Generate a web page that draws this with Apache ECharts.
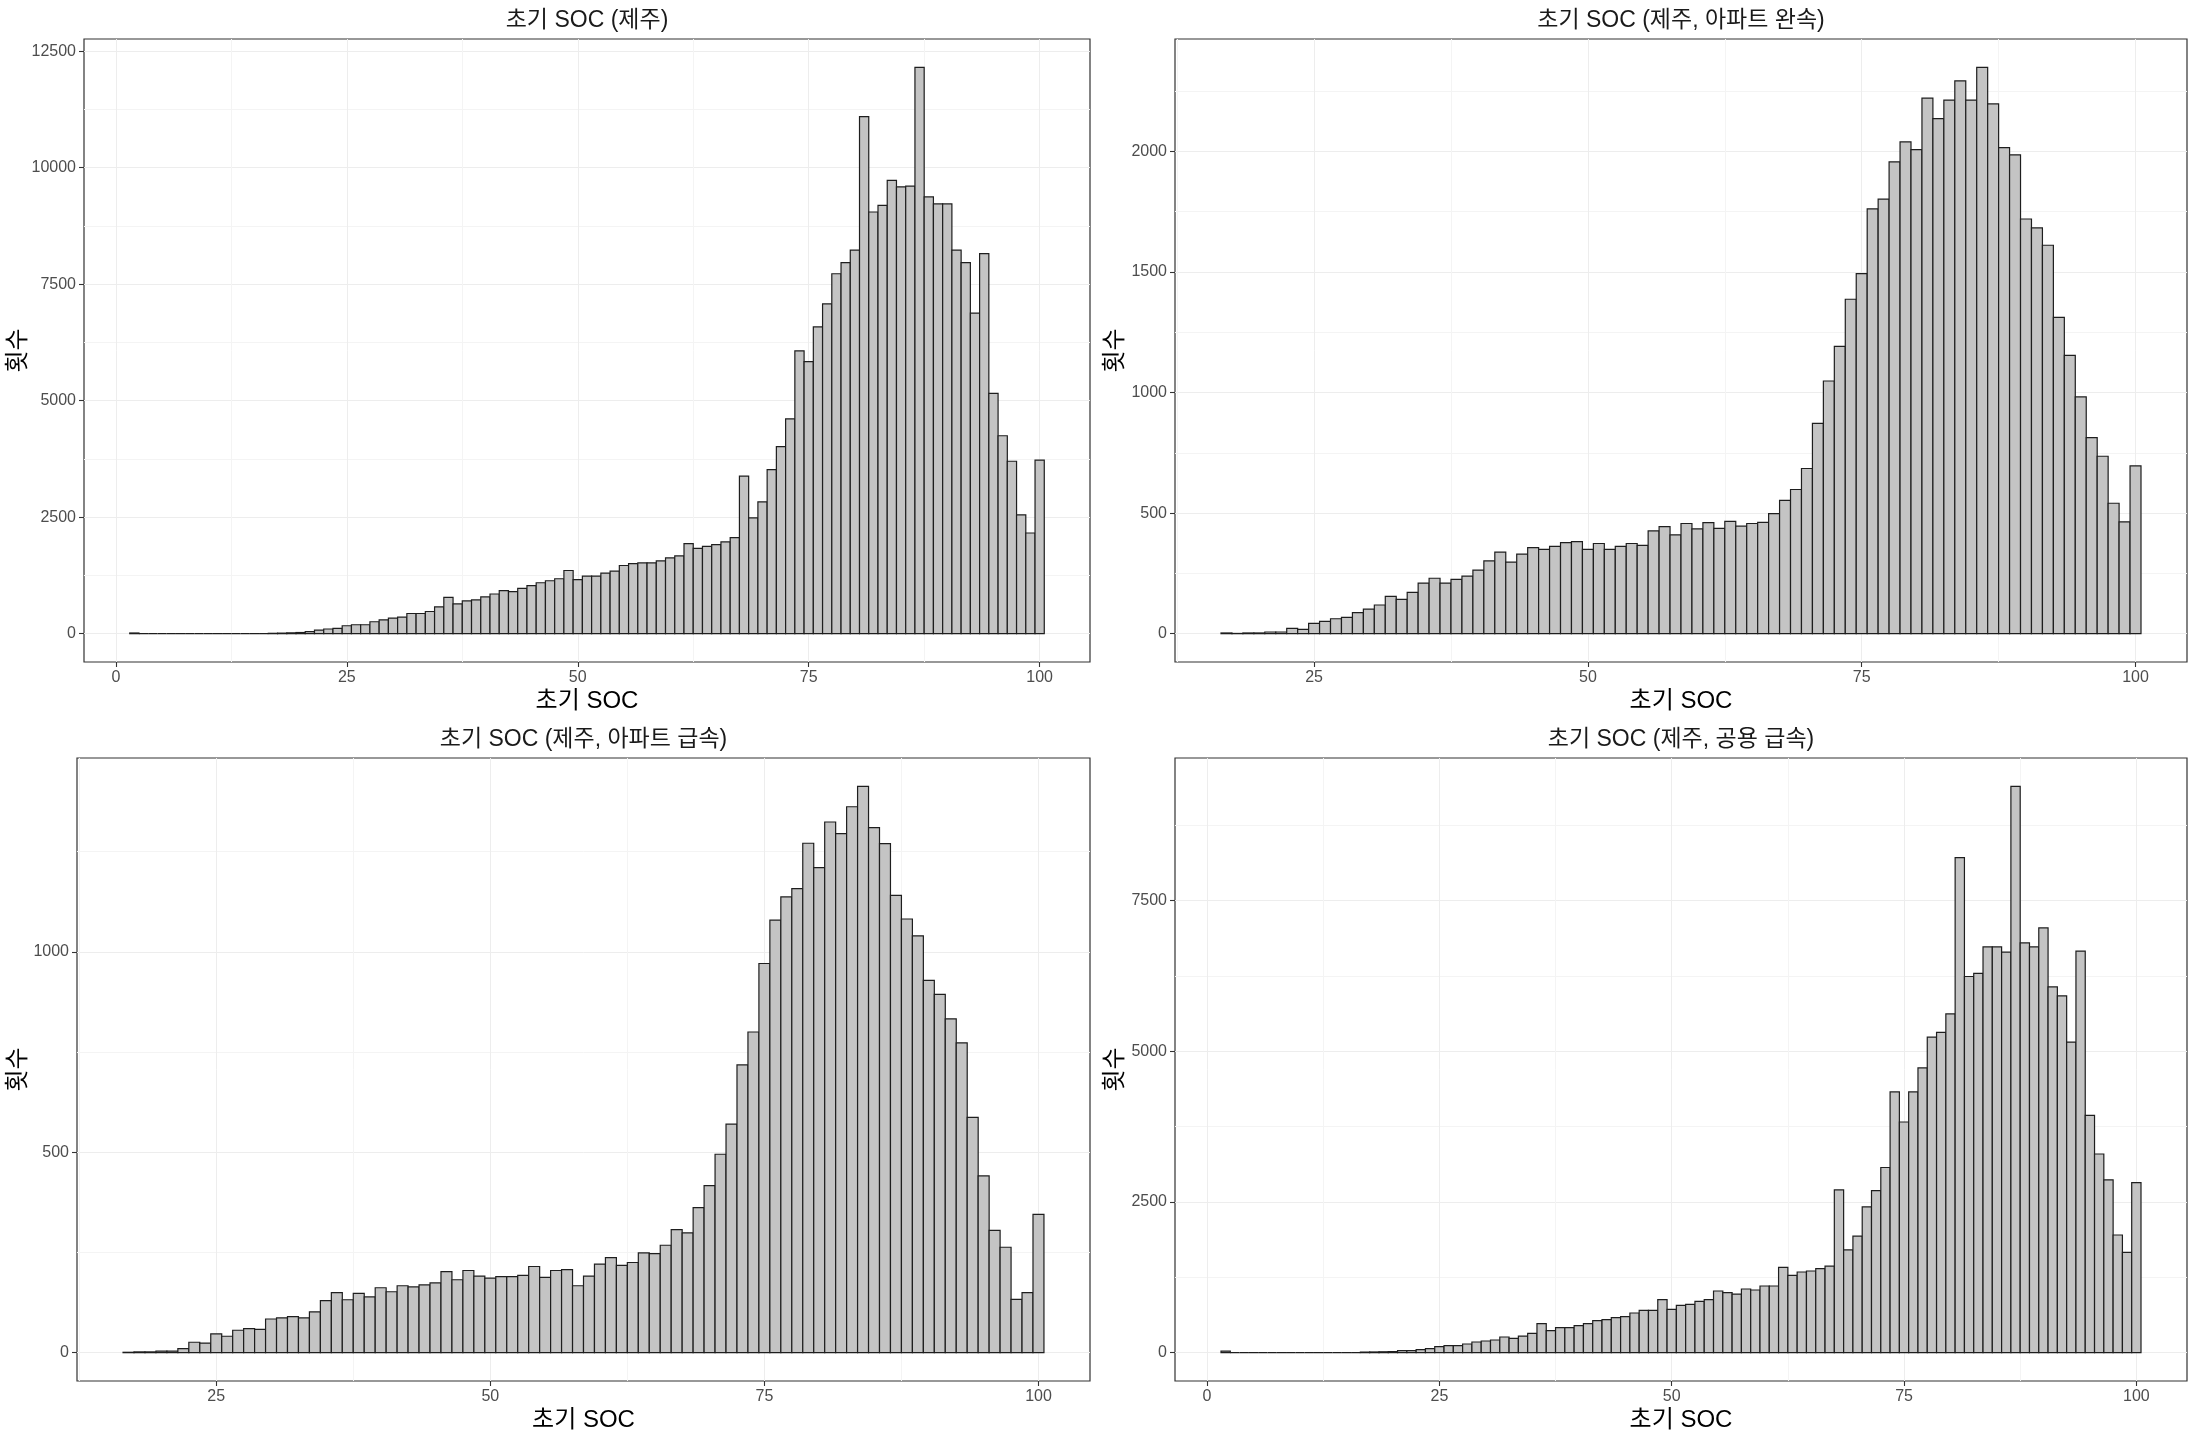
<!DOCTYPE html>
<html><head><meta charset="utf-8">
<script src="https://cdn.jsdelivr.net/npm/echarts@6/dist/echarts.min.js"></script>
<style>html,body{margin:0;padding:0;background:#fff}#c{width:2194px;height:1440px}</style>
</head><body><div id="c"></div>
<script>
// ---- texts ----
const panelTitles = ['초기 SOC (제주)', '초기 SOC (제주, 아파트 완속)', '초기 SOC (제주, 아파트 급속)', '초기 SOC (제주, 공용 급속)'];
const xAxisTitle = '초기 SOC';
const yAxisTitle = '횟수';

// ---- bin centres (SOC, width 1) ----
const firstBinJeju = 2;      // panels 1 and 4
const firstBinApt = 17;      // panels 2 and 3
const lastBin = 100;

// ---- counts per bin ----
const countsJeju = [15,0,0,0,0,0,0,0,0,0,0,0,0,0,0,8,12,18,25,
  43,78,100,114,170,192,192,256,298,334,355,433,433,476,575,781,639,703,724,788,
  852,923,902,973,1030,1093,1136,1179,1356,1158,1235,1235,1299,1342,1463,1505,1519,1519,1562,1626,
  1669,1931,1832,1874,1910,1970,2060,3380,2485,2830,3520,4015,4612,6070,5837,6583,7080,7725,7965,8230,
  11095,9050,9190,9730,9590,9605,12155,9373,9224,9224,8230,7965,6880,8155,5158,4248,3701,2550,2161,3726];
const countsAptSlow = [3,1,3,3,7,7,22,18,43,51,62,68,87,102,119,155,142,171,210,230,210,225,239,264,
  302,338,297,330,357,350,362,378,382,350,374,350,362,374,366,426,444,410,457,435,461,437,466,446,457,462,
  498,553,598,685,872,1048,1192,1387,1493,1762,1802,1957,2040,2008,2221,2136,2213,2293,2213,2349,2197,2016,
  1986,1720,1683,1611,1312,1154,982,813,736,541,464,696];
const countsAptFast = [1,2,2,4,4,10,26,24,47,41,56,60,58,84,87,90,87,102,130,150,132,148,139,162,152,167,
  164,169,174,202,182,205,191,186,190,190,193,215,188,205,207,167,191,221,237,218,225,249,247,268,307,299,
  362,417,495,570,718,800,971,1079,1137,1158,1271,1210,1324,1295,1362,1413,1310,1270,1141,1082,1040,929,
  894,833,773,587,441,305,263,133,150,345];
const countsPublicFast = [25,0,0,0,0,0,0,0,0,0,0,0,0,0,0,10,12,15,20,
  33,33,50,66,100,116,116,144,177,194,210,260,238,276,321,481,365,415,415,448,
  481,531,547,581,597,658,702,702,879,719,785,802,852,879,1023,995,973,1056,1040,1106,
  1106,1416,1283,1338,1355,1394,1435,2700,1705,1933,2419,2688,3072,4326,3827,4326,4723,5235,5312,5619,
  8211,6240,6291,6733,6733,6643,9395,6797,6733,7046,6067,5920,5152,6662,3936,3296,2867,1952,1664,2822];

// ---- tick labels ----
const xTicksFrom0 = [0, 25, 50, 75, 100];
const xTicksFrom25 = [25, 50, 75, 100];
const xMinorTicks = [12.5, 37.5, 62.5, 87.5];
const yTicksJeju = [0, 2500, 5000, 7500, 10000, 12500];
const yMinorJeju = [1250, 3750, 6250, 8750, 11250];
const yTicksAptSlow = [0, 500, 1000, 1500, 2000];
const yMinorAptSlow = [250, 750, 1250, 1750, 2250];
const yTicksAptFast = [0, 500, 1000];
const yMinorAptFast = [250, 750, 1250];
const yTicksPublic = [0, 2500, 5000, 7500];
const yMinorPublic = [1250, 3750, 6250, 8750];

// ---- build ----
function bins(from, to) { const a = []; for (let v = from; v <= to; v++) a.push(v); return a; }
const FONT = '"Liberation Sans", "Noto Sans CJK KR", sans-serif';
const barFill = '#C4C4C4', barStroke = '#1E1E1E';

const panels = [
  { title: panelTitles[0], first: firstBinJeju, counts: countsJeju, xt: xTicksFrom0, yt: yTicksJeju, ym: yMinorJeju,
    rect: { left: 84, top: 39, right: 1090, bottom: 662 } },
  { title: panelTitles[1], first: firstBinApt, counts: countsAptSlow, xt: xTicksFrom25, yt: yTicksAptSlow, ym: yMinorAptSlow,
    rect: { left: 1175, top: 39, right: 2187, bottom: 662 } },
  { title: panelTitles[2], first: firstBinApt, counts: countsAptFast, xt: xTicksFrom25, yt: yTicksAptFast, ym: yMinorAptFast,
    rect: { left: 77, top: 758, right: 1090, bottom: 1381 } },
  { title: panelTitles[3], first: firstBinJeju, counts: countsPublicFast, xt: xTicksFrom0, yt: yTicksPublic, ym: yMinorPublic,
    rect: { left: 1175, top: 758, right: 2187, bottom: 1381 } }
];

const grid = [], xAxis = [], yAxis = [], series = [], graphic = [];
const tickLabel = { color: '#4D4D4D', fontSize: 16, fontFamily: FONT, formatter: v => String(v) };

function renderBar(params, api) {
  const c = api.value(0), v = api.value(1);
  const a = api.coord([c - 0.5, 0]);
  const b = api.coord([c + 0.5, v]);
  return { type: 'rect', shape: { x: a[0], y: b[1], width: b[0] - a[0], height: a[1] - b[1] },
    style: { fill: barFill, stroke: barStroke, lineWidth: 1.2 } };
}

panels.forEach((p, i) => {
  const r = p.rect;
  const binsX = bins(p.first, lastBin);
  const lo = p.first - 0.5, hi = lastBin + 0.5, w = hi - lo;
  const xmin = lo - 0.05 * w, xmax = hi + 0.05 * w;
  const cmax = Math.max(...p.counts);
  const ymin = -0.05 * cmax, ymax = 1.05 * cmax;
  grid.push({ left: r.left, top: r.top, width: r.right - r.left, height: r.bottom - r.top,
    show: true, borderColor: '#333333', borderWidth: 1.2, backgroundColor: '#fff', containLabel: false });
  xAxis.push({ type: 'value', gridIndex: i, min: xmin, max: xmax, position: 'bottom',
    axisLine: { show: false, onZero: false },
    axisTick: { show: true, length: 5, lineStyle: { color: '#333', width: 1.1 }, customValues: p.xt },
    axisLabel: Object.assign({ margin: 8, customValues: p.xt, showMinLabel: true, showMaxLabel: true }, tickLabel),
    splitLine: { show: true, lineStyle: { color: '#EDEDED', width: 1 } } });
  xAxis.push({ type: 'value', gridIndex: i, min: xmin, max: xmax, position: 'bottom',
    axisLine: { show: false, onZero: false },
    axisTick: { show: false, customValues: xMinorTicks },
    axisLabel: { show: false, customValues: xMinorTicks },
    splitLine: { show: true, lineStyle: { color: '#F4F4F4', width: 1 } } });
  yAxis.push({ type: 'value', gridIndex: i, min: ymin, max: ymax, position: 'left',
    axisLine: { show: false, onZero: false },
    axisTick: { show: true, length: 5, lineStyle: { color: '#333', width: 1.1 }, customValues: p.yt },
    axisLabel: Object.assign({ margin: 8, customValues: p.yt }, tickLabel),
    splitLine: { show: true, lineStyle: { color: '#EDEDED', width: 1 } } });
  yAxis.push({ type: 'value', gridIndex: i, min: ymin, max: ymax, position: 'left',
    axisLine: { show: false, onZero: false },
    axisTick: { show: false, customValues: p.ym },
    axisLabel: { show: false, customValues: p.ym },
    splitLine: { show: true, lineStyle: { color: '#F4F4F4', width: 1 } } });
  series.push({ type: 'custom', xAxisIndex: 2 * i, yAxisIndex: 2 * i, renderItem: renderBar, clip: true,
    encode: { x: 0, y: 1 }, silent: true, z: 5,
    data: binsX.map((x, k) => [x, p.counts[k]]) });

  const cx = (r.left + r.right) / 2, cy = (r.top + r.bottom) / 2;
  graphic.push({ type: 'text', x: cx, y: r.top - 18, z: 100,
    style: { text: p.title, align: 'center', verticalAlign: 'middle', fontSize: 23, fontFamily: FONT, fill: '#1A1A1A' } });
  graphic.push({ type: 'text', x: cx, y: r.bottom + 39, z: 100,
    style: { text: xAxisTitle, align: 'center', verticalAlign: 'middle', fontSize: 24, fontFamily: FONT, fill: '#000' } });
  graphic.push({ type: 'text', x: (i % 2 === 0) ? 18 : 1115, y: cy, rotation: Math.PI / 2, z: 100,
    style: { text: yAxisTitle, align: 'center', verticalAlign: 'middle', fontSize: 24, fontFamily: FONT, fill: '#000' } });
});

const chart = echarts.init(document.getElementById('c'), null, { renderer: 'canvas' });
chart.setOption({ backgroundColor: '#fff', animation: false, grid, xAxis, yAxis, series, graphic });
</script></body></html>
